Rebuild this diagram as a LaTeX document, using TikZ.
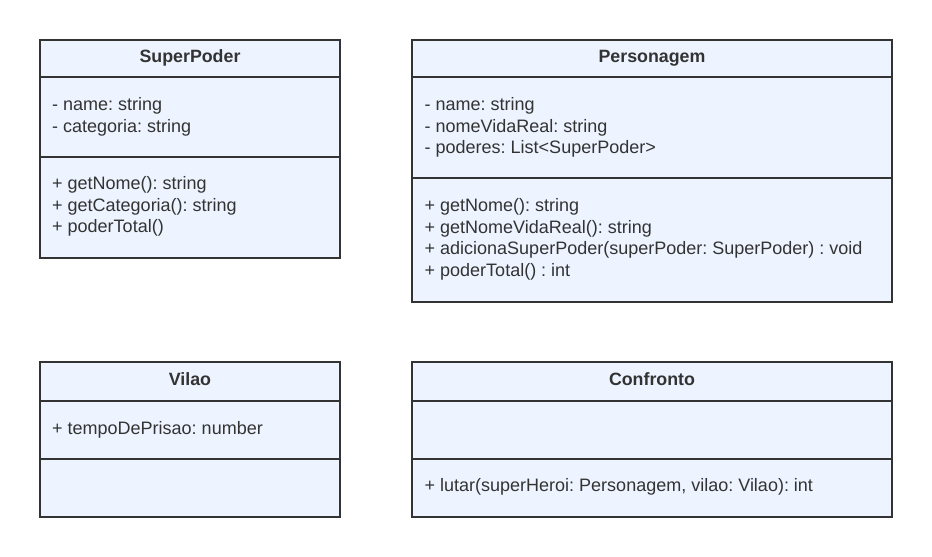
\documentclass[tikz,border=0pt]{standalone}
\usepackage{fontspec}
\setmainfont{Liberation Sans}
\frenchspacing
\definecolor{boxfill}{HTML}{EDF4FF}
\definecolor{linec}{HTML}{333333}
\definecolor{txt}{HTML}{333333}
\begin{document}
\begin{tikzpicture}[x=1pt,y=-1pt,
  compartment/.style={draw=linec, fill=boxfill, line width=1.8pt, rectangle, inner sep=0pt, outer sep=0pt, anchor=north west},
  classname/.style={anchor=base, inner sep=0pt, text=txt, font=\fontsize{17.8}{21.5}\selectfont\bfseries},
  member/.style={anchor=base west, inner sep=0pt, text=txt, font=\fontsize{18}{21.5}\selectfont}]
\useasboundingbox[fill=white] (0,0) rectangle (932,557);

% ---- SuperPoder ----
\node[compartment, minimum width=300pt, minimum height=36.7pt] (sp-head) at (40,40) {};
\node[compartment, minimum width=300pt, minimum height=80pt] (sp-attr) at (40,76.7) {};
\node[compartment, minimum width=300pt, minimum height=101.6pt] (sp-ops) at (40,156.7) {};
\node[classname] (sp-name) at (190,62.3) {SuperPoder};
\node[member] (sp-a1) at (52,110.5) {- name: string};
\node[member] (sp-a2) at (52,132) {- categoria: string};
\node[member] (sp-o1) at (52,189.5) {+ getNome(): string};
\node[member] (sp-o2) at (52,211) {+ getCategoria(): string};
\node[member] (sp-o3) at (52,232.5) {+ poderTotal()};

% ---- Personagem ----
\node[compartment, minimum width=480.6pt, minimum height=36.7pt] (pe-head) at (411.7,40) {};
\node[compartment, minimum width=480.6pt, minimum height=101pt] (pe-attr) at (411.7,76.7) {};
\node[compartment, minimum width=480.6pt, minimum height=124pt] (pe-ops) at (411.7,177.7) {};
\node[classname] (pe-name) at (652,62.3) {Personagem};
\node[member] (pe-a1) at (424.5,110.5) {- name: string};
\node[member] (pe-a2) at (424.5,132) {- nomeVidaReal: string};
\node[member] (pe-a3) at (424.5,153.5) {- poderes: List<SuperPoder>};
\node[member] (pe-o1) at (424.5,211.5) {+ getNome(): string};
\node[member] (pe-o2) at (424.5,233) {+ getNomeVidaReal(): string};
\node[member] (pe-o3) at (424.5,254.5) {+ adicionaSuperPoder(superPoder: SuperPoder) : void};
\node[member] (pe-o4) at (424.5,276) {+ poderTotal() : int};

% ---- Vilao ----
\node[compartment, minimum width=300pt, minimum height=38.4pt] (vi-head) at (40,362.3) {};
\node[compartment, minimum width=300pt, minimum height=58.3pt] (vi-attr) at (40,400.7) {};
\node[compartment, minimum width=300pt, minimum height=57.7pt] (vi-ops) at (40,459) {};
\node[classname] (vi-name) at (190,385.7) {Vilao};
\node[member] (vi-a1) at (52,434) {+ tempoDePrisao: number};

% ---- Confronto ----
\node[compartment, minimum width=480.6pt, minimum height=38.4pt] (co-head) at (411.7,362.3) {};
\node[compartment, minimum width=480.6pt, minimum height=58.3pt] (co-attr) at (411.7,400.7) {};
\node[compartment, minimum width=480.6pt, minimum height=57.7pt] (co-ops) at (411.7,459) {};
\node[classname] (co-name) at (652,385.7) {Confronto};
\node[member] (co-o1) at (424.5,491.5) {+ lutar(superHeroi: Personagem, vilao: Vilao): int};
\end{tikzpicture}
\end{document}
